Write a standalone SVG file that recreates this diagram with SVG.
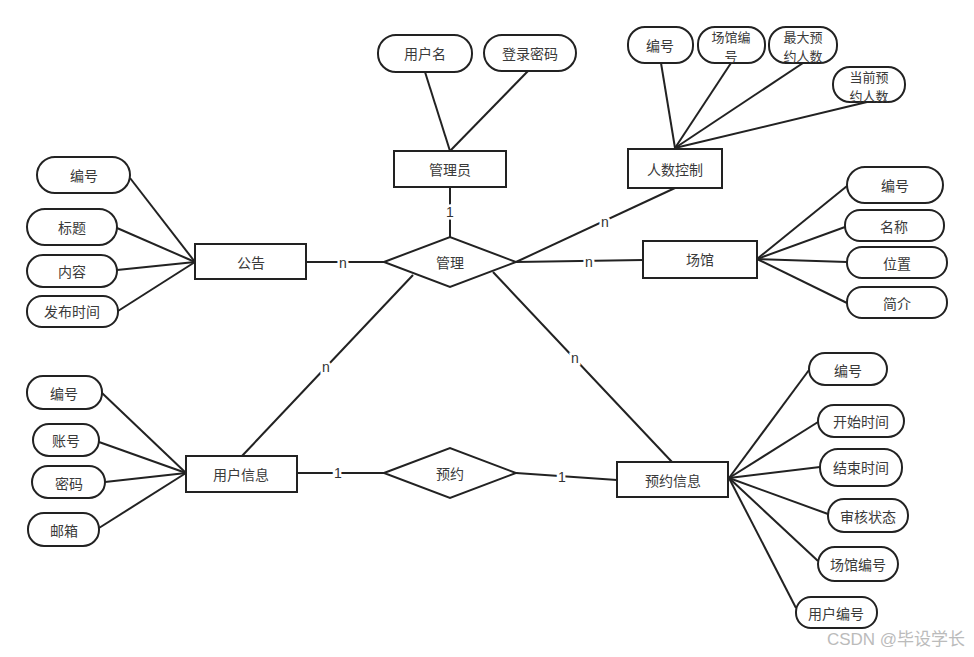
<svg xmlns="http://www.w3.org/2000/svg" width="974" height="657" viewBox="0 0 974 657">
<style>
.e{fill:#fff;stroke:#222;stroke-width:2}
.a{fill:#fff;stroke:#222;stroke-width:2}
.t{font-family:"Noto Sans CJK SC","Liberation Sans",sans-serif;font-size:14px;fill:#3a3a3a;text-anchor:middle;dominant-baseline:central}
.s{font-size:13px}
.c line{stroke:#222;stroke-width:2;fill:none}
.l{font-family:"Liberation Sans","Noto Sans CJK SC",sans-serif;font-size:14px;fill:#333;text-anchor:middle;dominant-baseline:central;stroke:#fff;stroke-width:5;paint-order:stroke}
.w{font-family:"Liberation Sans","Noto Sans CJK SC",sans-serif;font-size:17px;fill:#bbb;text-anchor:middle;dominant-baseline:central}
</style>
<rect width="974" height="657" fill="#fff"/>
<g class="c" id="connectors">
<line x1="425" y1="72" x2="450" y2="151"/>
<line x1="528" y1="71" x2="450" y2="151"/>
<line x1="450" y1="187" x2="450" y2="237"/>
<line x1="661" y1="63" x2="675" y2="148"/>
<line x1="731" y1="63" x2="675" y2="148"/>
<line x1="803" y1="63" x2="675" y2="148"/>
<line x1="867" y1="102" x2="675" y2="148"/>
<line x1="516" y1="262" x2="675" y2="188"/>
<line x1="516" y1="262" x2="643" y2="260"/>
<line x1="306" y1="262" x2="384" y2="262"/>
<line x1="130" y1="178" x2="195" y2="262"/>
<line x1="117" y1="228" x2="195" y2="262"/>
<line x1="117" y1="270" x2="195" y2="262"/>
<line x1="118" y1="311" x2="195" y2="262"/>
<line x1="757" y1="259" x2="847" y2="186"/>
<line x1="757" y1="259" x2="845" y2="227"/>
<line x1="757" y1="259" x2="847" y2="262"/>
<line x1="757" y1="259" x2="847" y2="303"/>
<line x1="242" y1="456" x2="413" y2="275"/>
<line x1="493" y1="272" x2="672" y2="462"/>
<line x1="102" y1="393" x2="186" y2="473"/>
<line x1="99" y1="442" x2="186" y2="473"/>
<line x1="105" y1="482" x2="186" y2="473"/>
<line x1="99" y1="528" x2="186" y2="473"/>
<line x1="297" y1="473" x2="384" y2="473"/>
<line x1="516" y1="473" x2="617" y2="480"/>
<line x1="729" y1="478" x2="809" y2="370"/>
<line x1="729" y1="478" x2="818" y2="422"/>
<line x1="729" y1="478" x2="820" y2="467"/>
<line x1="729" y1="478" x2="828" y2="514"/>
<line x1="729" y1="478" x2="818" y2="561"/>
<line x1="729" y1="478" x2="796" y2="608"/>
<text class="l" x="450" y="212">1</text>
<text class="l" x="605" y="222">n</text>
<text class="l" x="589" y="262">n</text>
<text class="l" x="343" y="263">n</text>
<text class="l" x="326" y="367">n</text>
<text class="l" x="575" y="358">n</text>
<text class="l" x="338" y="473">1</text>
<text class="l" x="562" y="477">1</text>
</g>
<g id="admin"><rect class="e" x="394" y="151" width="112" height="36"/><text class="t" x="450" y="169">管理员</text></g>
<g id="admin-username"><rect class="a" x="378" y="35" width="94" height="37" rx="18"/><text class="t" x="425" y="53">用户名</text></g>
<g id="admin-password"><rect class="a" x="484" y="35" width="92" height="36" rx="18"/><text class="t" x="530" y="53">登录密码</text></g>
<g id="capacity"><rect class="e" x="628" y="149" width="94" height="39"/><text class="t" x="675" y="169">人数控制</text></g>
<g id="cap-id"><rect class="a" x="628" y="27" width="65" height="36" rx="17"/><text class="t" x="660" y="45">编号</text></g>
<g id="cap-venue"><rect class="a" x="698" y="27" width="67" height="36" rx="17"/><text class="t s" x="731" y="36">场馆编</text><text class="t s" x="731" y="55">号</text></g>
<g id="cap-max"><rect class="a" x="769" y="27" width="68" height="36" rx="17"/><text class="t s" x="803" y="36">最大预</text><text class="t s" x="803" y="55">约人数</text></g>
<g id="cap-cur"><rect class="a" x="833" y="67" width="72" height="35" rx="17"/><text class="t s" x="869" y="76">当前预</text><text class="t s" x="869" y="95">约人数</text></g>
<g id="notice"><rect class="e" x="195" y="244" width="111" height="35"/><text class="t" x="251" y="262">公告</text></g>
<g id="notice-id"><rect class="a" x="37" y="157" width="93" height="36" rx="18"/><text class="t" x="84" y="175">编号</text></g>
<g id="notice-title"><rect class="a" x="27" y="209" width="90" height="36" rx="18"/><text class="t" x="72" y="227">标题</text></g>
<g id="notice-content"><rect class="a" x="27" y="255" width="90" height="32" rx="16"/><text class="t" x="72" y="271">内容</text></g>
<g id="notice-time"><rect class="a" x="27" y="296" width="91" height="31" rx="15"/><text class="t" x="72" y="311">发布时间</text></g>
<g id="manage"><polygon class="e" points="384,262 450,237 516,262 450,287"/><text class="t" x="450" y="262">管理</text></g>
<g id="venue"><rect class="e" x="643" y="241" width="114" height="37"/><text class="t" x="700" y="259">场馆</text></g>
<g id="venue-id"><rect class="a" x="847" y="167" width="96" height="36" rx="18"/><text class="t" x="895" y="185">编号</text></g>
<g id="venue-name"><rect class="a" x="845" y="210" width="99" height="31" rx="15"/><text class="t" x="894" y="226">名称</text></g>
<g id="venue-loc"><rect class="a" x="847" y="247" width="100" height="31" rx="15"/><text class="t" x="897" y="263">位置</text></g>
<g id="venue-intro"><rect class="a" x="847" y="287" width="100" height="31" rx="15"/><text class="t" x="897" y="303">简介</text></g>
<g id="user"><rect class="e" x="186" y="456" width="111" height="36"/><text class="t" x="241" y="474">用户信息</text></g>
<g id="user-id"><rect class="a" x="27" y="376" width="75" height="33" rx="16"/><text class="t" x="64" y="393">编号</text></g>
<g id="user-acc"><rect class="a" x="33" y="424" width="66" height="32" rx="16"/><text class="t" x="66" y="440">账号</text></g>
<g id="user-pwd"><rect class="a" x="32" y="466" width="73" height="32" rx="16"/><text class="t" x="69" y="483">密码</text></g>
<g id="user-mail"><rect class="a" x="28" y="513" width="71" height="33" rx="16"/><text class="t" x="64" y="530">邮箱</text></g>
<g id="reserve"><polygon class="e" points="384,473 450,448 516,473 450,498"/><text class="t" x="450" y="473">预约</text></g>
<g id="booking"><rect class="e" x="617" y="462" width="111" height="35"/><text class="t" x="673" y="480">预约信息</text></g>
<g id="bk-id"><rect class="a" x="809" y="353" width="78" height="32" rx="16"/><text class="t" x="848" y="370">编号</text></g>
<g id="bk-start"><rect class="a" x="818" y="405" width="86" height="32" rx="16"/><text class="t" x="861" y="421">开始时间</text></g>
<g id="bk-end"><rect class="a" x="820" y="449" width="82" height="37" rx="18"/><text class="t" x="861" y="467">结束时间</text></g>
<g id="bk-status"><rect class="a" x="828" y="499" width="80" height="33" rx="16"/><text class="t" x="868" y="516">审核状态</text></g>
<g id="bk-venue"><rect class="a" x="818" y="547" width="80" height="34" rx="17"/><text class="t" x="858" y="564">场馆编号</text></g>
<g id="bk-user"><rect class="a" x="796" y="597" width="81" height="31" rx="15"/><text class="t" x="836" y="613">用户编号</text></g>
<text class="w" x="896" y="639">CSDN @毕设学长</text>
</svg>
